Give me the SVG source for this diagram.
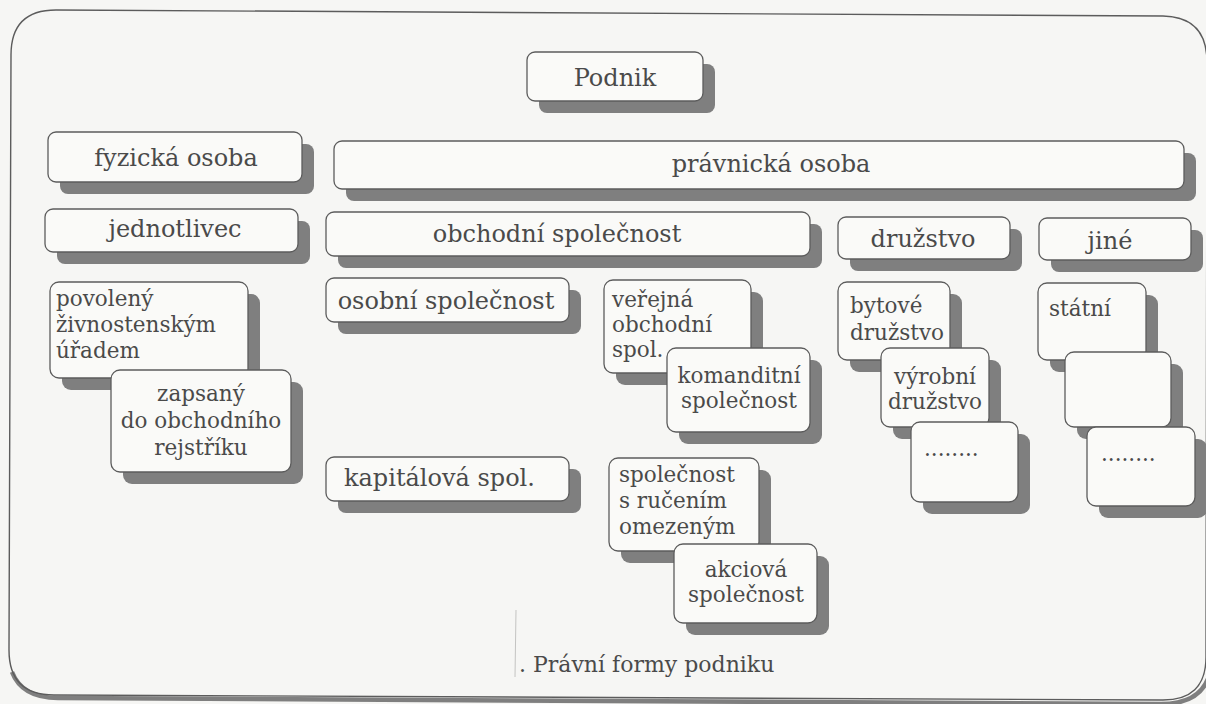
<svg xmlns="http://www.w3.org/2000/svg" width="1206" height="704" viewBox="0 0 1206 704">
<style>
.bx{fill:#fafaf8;stroke:#5c5c5c;stroke-width:1.3}
.sh{fill:#7f7f7f}
.t{fill:#4a4a4a;font-family:"DejaVu Serif","Liberation Serif",serif}
.big{font-size:24px}
.sm{font-size:21.5px}
.c{text-anchor:middle}
.frame{fill:none;stroke:#5c5c5c;stroke-width:1.4}
.fsh{fill:none;stroke:#7f7f7f;stroke-width:4.5}
</style>
<rect x="0" y="0" width="1206" height="704" fill="#f6f6f4"/>
<g id="frame">
<path class="fsh" d="M 12,672 Q 22,698 58,698 L 1161,704 Q 1200,704 1209,676"/>
<path class="frame" d="M 11,55 Q 11,10 56,10 L 1163,16 Q 1207,17 1207,62 L 1206,657 Q 1206,701 1161,700 L 54,695 Q 9,695 9,650 Z" fill="#f6f6f4"/>
<line x1="516" y1="610" x2="515" y2="677" stroke="#c4c4c2" stroke-width="1"/>
</g>
<g id="connectors"></g>
<g id="podnik">
<rect class="sh" x="539" y="64" width="176" height="49" rx="8"/>
<rect class="bx" x="527" y="52" width="176" height="49" rx="8"/>
<text class="t big c" x="615" y="86">Podnik</text>
</g>
<g id="fyzicka-osoba">
<rect class="sh" x="60" y="144" width="254" height="50" rx="8"/>
<rect class="bx" x="48" y="132" width="254" height="50" rx="8"/>
<text class="t big c" x="176" y="166">fyzická osoba</text>
</g>
<g id="pravnicka-osoba">
<rect class="sh" x="346" y="153" width="850" height="48" rx="8"/>
<rect class="bx" x="334" y="141" width="850" height="48" rx="8"/>
<text class="t big c" x="771" y="172">právnická osoba</text>
</g>
<g id="jednotlivec">
<rect class="sh" x="57" y="221" width="253" height="43" rx="8"/>
<rect class="bx" x="45" y="209" width="253" height="43" rx="8"/>
<text class="t big c" x="175" y="237">jednotlivec</text>
</g>
<g id="obchodni-spolecnost">
<rect class="sh" x="338" y="224" width="484" height="44" rx="8"/>
<rect class="bx" x="326" y="212" width="484" height="44" rx="8"/>
<text class="t big c" x="557" y="242">obchodní společnost</text>
</g>
<g id="druzstvo">
<rect class="sh" x="850" y="229" width="172" height="42" rx="8"/>
<rect class="bx" x="838" y="217" width="172" height="42" rx="8"/>
<text class="t big c" x="923" y="247">družstvo</text>
</g>
<g id="jine">
<rect class="sh" x="1051" y="230" width="152" height="42" rx="8"/>
<rect class="bx" x="1039" y="218" width="152" height="42" rx="8"/>
<text class="t big c" x="1110" y="249">jiné</text>
</g>
<g id="povoleny">
<rect class="sh" x="62" y="294" width="198" height="96" rx="9"/>
<rect class="bx" x="50" y="282" width="198" height="96" rx="9"/>
<text class="t sm" x="56" y="306">povolený</text>
<text class="t sm" x="56" y="332">živnostenským</text>
<text class="t sm" x="56" y="358">úřadem</text>
</g>
<g id="zapsany">
<rect class="sh" x="123" y="382" width="180" height="102" rx="9"/>
<rect class="bx" x="111" y="370" width="180" height="102" rx="9"/>
<text class="t sm c" x="201" y="401">zapsaný</text>
<text class="t sm c" x="201" y="428">do obchodního</text>
<text class="t sm c" x="201" y="455">rejstříku</text>
</g>
<g id="osobni-spolecnost">
<rect class="sh" x="338" y="290" width="243" height="44" rx="8"/>
<rect class="bx" x="326" y="278" width="243" height="44" rx="8"/>
<text class="t big c" x="446" y="309">osobní společnost</text>
</g>
<g id="kapitalova-spol">
<rect class="sh" x="338" y="469" width="243" height="44" rx="8"/>
<rect class="bx" x="326" y="457" width="243" height="44" rx="8"/>
<text class="t big" x="344" y="486">kapitálová spol.</text>
</g>
<g id="verejna-obchodni-spol">
<rect class="sh" x="616" y="292" width="147" height="93" rx="9"/>
<rect class="bx" x="604" y="280" width="147" height="93" rx="9"/>
<text class="t sm" x="612" y="307">veřejná</text>
<text class="t sm" x="612" y="332">obchodní</text>
<text class="t sm" x="612" y="357">spol.</text>
</g>
<g id="komanditni-spolecnost">
<rect class="sh" x="679" y="360" width="143" height="84" rx="9"/>
<rect class="bx" x="667" y="348" width="143" height="84" rx="9"/>
<text class="t sm c" x="739" y="383">komanditní</text>
<text class="t sm c" x="739" y="408">společnost</text>
</g>
<g id="spolecnost-s-rucenim-omezenym">
<rect class="sh" x="621" y="470" width="150" height="93" rx="9"/>
<rect class="bx" x="609" y="458" width="150" height="93" rx="9"/>
<text class="t sm" x="619" y="482">společnost</text>
<text class="t sm" x="619" y="508">s ručením</text>
<text class="t sm" x="619" y="534">omezeným</text>
</g>
<g id="akciova-spolecnost">
<rect class="sh" x="686" y="556" width="143" height="79" rx="9"/>
<rect class="bx" x="674" y="544" width="143" height="79" rx="9"/>
<text class="t sm c" x="746" y="577">akciová</text>
<text class="t sm c" x="746" y="602">společnost</text>
</g>
<g id="bytove-druzstvo">
<rect class="sh" x="850" y="294" width="112" height="78" rx="9"/>
<rect class="bx" x="838" y="282" width="112" height="78" rx="9"/>
<text class="t sm" x="850" y="313">bytové</text>
<text class="t sm" x="850" y="340">družstvo</text>
</g>
<g id="vyrobni-druzstvo">
<rect class="sh" x="893" y="360" width="108" height="79" rx="9"/>
<rect class="bx" x="881" y="348" width="108" height="79" rx="9"/>
<text class="t sm c" x="935" y="384">výrobní</text>
<text class="t sm c" x="935" y="409">družstvo</text>
</g>
<g id="druzstvo-dalsi">
<rect class="sh" x="923" y="434" width="107" height="80" rx="9"/>
<rect class="bx" x="911" y="422" width="107" height="80" rx="9"/>
<text class="t sm" x="924" y="456">........</text>
</g>
<g id="statni">
<rect class="sh" x="1050" y="295" width="108" height="77" rx="9"/>
<rect class="bx" x="1038" y="283" width="108" height="77" rx="9"/>
<text class="t sm" x="1049" y="316">státní</text>
</g>
<g id="jine-prazdny">
<rect class="sh" x="1077" y="364" width="106" height="75" rx="9"/>
<rect class="bx" x="1065" y="352" width="106" height="75" rx="9"/>
</g>
<g id="jine-dalsi">
<rect class="sh" x="1099" y="439" width="108" height="79" rx="9"/>
<rect class="bx" x="1087" y="427" width="108" height="79" rx="9"/>
<text class="t sm" x="1101" y="461">........</text>
</g>
<g id="caption">
<text class="t" x="519" y="672" font-size="22">. Právní formy podniku</text>
</g>
</svg>
